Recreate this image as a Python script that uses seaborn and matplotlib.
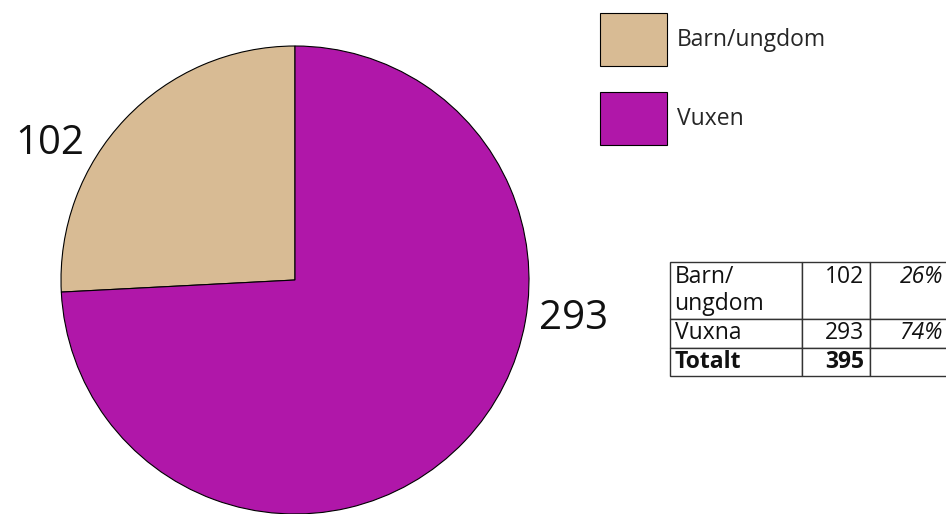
import numpy as np
import matplotlib.pyplot as plt
import seaborn as sns

sns.set_style("white")
plt.rcParams["font.family"] = ["Open Sans", "DejaVu Sans"]

# Data
categories = ["Barn/ungdom", "Vuxen"]
counts = [102, 293]
colors = ["#D8BB94", "#B017A9"]

table_labels = ["Barn/\nungdom", "Vuxna", "Totalt"]
table_counts = [102, 293]
table_total = sum(table_counts)

fig = plt.figure(figsize=(9.46, 5.14), dpi=100)
ax = fig.add_axes([0, 0, 1, 1])

# pie in pixel-like data coordinates
cx, cy, r = 295, 234, 234
wedges, _ = ax.pie(counts, colors=colors, startangle=90, counterclock=True,
                   center=(cx, cy), radius=r,
                   wedgeprops=dict(edgecolor="black", linewidth=0.8))

# value labels outside the pie
label_angles = [151, -8]
for val, ang in zip(counts, label_angles):
    t = np.deg2rad(ang)
    ax.text(cx + 1.2 * r * np.cos(t), cy + 1.2 * r * np.sin(t), str(val),
            ha="center", va="center", fontsize=29, color="#111111")

ax.set_xlim(0, 946)
ax.set_ylim(0, 514)
ax.set_aspect("equal", adjustable="box")
ax.axis("off")

# legend with big square swatches
leg = ax.legend(wedges, categories, loc="upper left",
                bbox_to_anchor=(600 / 946, 1 - 13 / 514), frameon=False,
                fontsize=16.5, handlelength=2.92, handleheight=3.2,
                labelspacing=1.13, handletextpad=0.44,
                borderpad=0, borderaxespad=0)

# summary table; numbers of the two-line row sit on its first line
pcts = [f"{round(100 * c / table_total)}%" for c in table_counts]
cell_text = [
    [table_labels[0], f"{table_counts[0]}\n", f"{pcts[0]}\n"],
    [table_labels[1], str(table_counts[1]), pcts[1]],
    [table_labels[2], str(table_total), ""],
]
tbl = ax.table(cellText=cell_text, colWidths=[132, 68, 80],
               bbox=[670 / 946, 1 - 376 / 514, 280 / 946, 114 / 514])
tbl.auto_set_font_size(False)
row_heights = [2, 1, 1]
for (row, col), cell in tbl.get_celld().items():
    cell.set_height(row_heights[row])
    cell.set_edgecolor("#333333")
    cell.set_linewidth(1.0)
    txt = cell.get_text()
    txt.set_fontsize(16.5)
    txt.set_color("#111111")
    txt.set_linespacing(1.15)
    if col == 0:
        cell._loc = "left"
        cell.PAD = 0.035
        txt.set_horizontalalignment("left")
    else:
        cell._loc = "right"
        cell.PAD = 0.09
        txt.set_horizontalalignment("right")
    if col == 2:
        txt.set_style("italic")
    if row == 2:
        txt.set_fontweight("bold")

fig.savefig("out.png", dpi=100)
